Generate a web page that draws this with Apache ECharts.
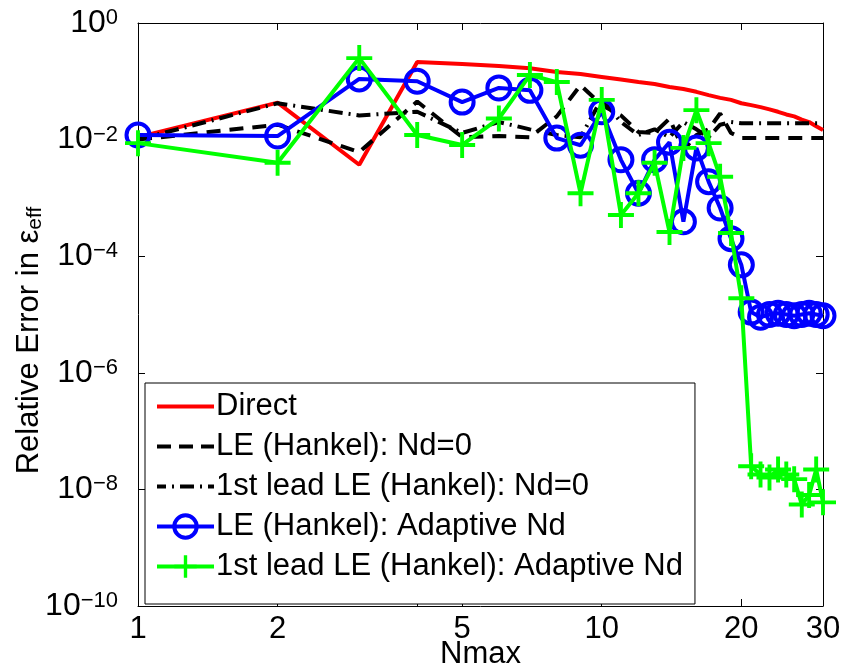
<!DOCTYPE html>
<html>
<head>
<meta charset="utf-8">
<script src="https://cdn.jsdelivr.net/npm/echarts@6/dist/echarts.min.js"></script>
<style>
html,body{margin:0;padding:0;background:#fff;}
#chart{width:846px;height:669px;}
</style>
</head>
<body>
<div id="chart"></div>
<script>
var nmax = [1,2,3,4,5,6,7,8,9,10,11,12,13,14,15,16,17,18,19,20,21,22,23,24,25,26,27,28,29,30];
var direct = [0.011,0.043,0.0037,0.214,0.198,0.183,0.168,0.144,0.133,0.119,0.107,0.097,0.090,0.080,0.074,0.066,0.058,0.052,0.048,0.042,0.039,0.036,0.033,0.030,0.027,0.025,0.022,0.020,0.017,0.0146];
var leNd0 = [0.010,0.018,0.0061,0.045,0.011,0.0115,0.011,0.025,0.086,0.039,0.026,0.0135,0.013,0.023,0.0066,0.012,0.015,0.028,0.013,0.0107,0.0107,0.0107,0.0107,0.0107,0.0107,0.0107,0.0107,0.0107,0.0107,0.0107];
var leadNd0 = [0.010,0.042,0.026,0.030,0.013,0.020,0.015,0.012,0.011,0.050,0.020,0.012,0.015,0.011,0.020,0.015,0.011,0.018,0.020,0.019,0.019,0.019,0.019,0.019,0.019,0.019,0.019,0.019,0.019,0.019];
var leAdapt = [0.012,0.0115,0.11,0.10,0.044,0.077,0.070,0.0106,0.008,0.030,0.0045,0.0012,0.0045,0.009,0.00039,0.0072,0.0019,0.00067,0.0002,0.000071,1.1e-5,9e-6,1.0e-5,1.05e-5,1.0e-5,9.5e-6,1.0e-5,1.05e-5,1.0e-5,9.5e-6];
var leadAdapt = [0.0087,0.004,0.25,0.012,0.0081,0.023,0.128,0.097,0.0012,0.048,0.00051,0.0012,0.004,0.00026,0.0072,0.032,0.0087,0.0023,0.00025,1.9e-5,2.5e-8,1.8e-8,1.6e-8,2.2e-8,1.8e-8,1.5e-8,5.5e-9,8e-9,2.2e-8,6e-9];
var xLabelValues = [1,2,5,10,20,30];
var xTickValues = [1,2,4,5,10,20,30];
var yTickValues = [1e-10,1e-8,1e-6,1e-4,1e-2,1];
var seriesNames = ['Direct','LE (Hankel): Nd=0','1st lead LE (Hankel): Nd=0','LE (Hankel): Adaptive Nd','1st lead LE (Hankel): Adaptive Nd'];

function pairs(arr){ return nmax.map(function(n,i){ return [n, arr[i]]; }); }

var FONT = 'Liberation Sans';
var chart = echarts.init(document.getElementById('chart'), null, {renderer:'canvas'});

function yFmt(v){
  var e = Math.round(Math.log(v)/Math.LN10);
  return '{b|10}{s|' + (e < 0 ? '\u2212' : '') + Math.abs(e) + '}';
}

var plusPath = 'path://M-0.15,-1L0.15,-1L0.15,-0.15L1,-0.15L1,0.15L0.15,0.15L0.15,1L-0.15,1L-0.15,0.15L-1,0.15L-1,-0.15L-0.15,-0.15Z';
var solidIcon = 'path://M0,0L57,0L57,4L0,4Z';
var dashIcon = 'path://M0,0L14,0L14,4L0,4ZM22,0L36,0L36,4L22,4ZM44,0L57,0L57,4L44,4Z';
var dashDotIcon = 'path://M0,0L9,0L9,4L0,4ZM15,0L17,0L17,4L15,4ZM23,0L37,0L37,4L23,4ZM43,0L45,0L45,4L43,4ZM51,0L57,0L57,4L51,4Z';

var option = {
  backgroundColor:'#fff',
  animation:false,
  textStyle:{fontFamily:FONT},
  grid:{left:138,right:23,top:23,bottom:63,containLabel:false,outerBoundsMode:'none'},
  legend:{
    orient:'vertical', left:145, top:383,
    backgroundColor:'#fff', borderColor:'#000', borderWidth:1,
    padding:[8,12,22,10],
    itemWidth:57, itemHeight:28, itemGap:9,
    selectedMode:false,
    textStyle:{fontFamily:FONT,fontSize:31,color:'#000',lineHeight:30,padding:[0,0,0,-3]},
    data:[
      {name:seriesNames[0],icon:solidIcon},
      {name:seriesNames[1],icon:dashIcon},
      {name:seriesNames[2],icon:dashDotIcon},
      {name:seriesNames[3],lineStyle:{width:4},itemStyle:{borderWidth:4}},
      {name:seriesNames[4],lineStyle:{width:4},itemStyle:{borderWidth:0}}
    ]
  },
  xAxis:[{
    type:'log', logBase:10, min:1, max:30,
    name:'Nmax', nameLocation:'middle', nameGap:33, nameMoveOverlap:false,
    nameTextStyle:{fontFamily:FONT,fontSize:31,color:'#000'},
    axisLine:{show:true,lineStyle:{color:'#000',width:1}},
    axisTick:{show:true,inside:true,length:7,lineStyle:{color:'#000'},customValues:xTickValues},
    minorTick:{show:false},
    axisLabel:{show:true,fontFamily:FONT,fontSize:31,color:'#000',margin:8,customValues:xLabelValues,
      formatter:function(v){return String(Math.round(v));}},
    splitLine:{show:false}
  },{
    type:'log', logBase:10, min:1, max:30, position:'top',
    axisLine:{show:true,onZero:false,lineStyle:{color:'#000',width:1}},
    axisTick:{show:true,inside:true,length:7,lineStyle:{color:'#000'},customValues:xTickValues},
    axisLabel:{show:false},
    splitLine:{show:false}
  }],
  yAxis:[{
    type:'log', logBase:10, min:1e-10, max:1,
    name:'Relative Error in \u03b5{sub|eff}', nameLocation:'middle', nameGap:92, nameRotate:90, nameMoveOverlap:false,
    nameTextStyle:{fontFamily:FONT,fontSize:31,color:'#000',padding:[0,52,0,0],
      rich:{sub:{fontFamily:FONT,fontSize:21,color:'#000',verticalAlign:'bottom',padding:[12,0,0,0]}}},
    axisLine:{show:true,onZero:false,lineStyle:{color:'#000',width:1}},
    axisTick:{show:true,inside:true,length:7,lineStyle:{color:'#000'},customValues:yTickValues},
    axisLabel:{show:true,margin:20,customValues:yTickValues,formatter:yFmt,
      rich:{
        b:{fontFamily:FONT,fontSize:32,color:'#000',lineHeight:32,verticalAlign:'bottom'},
        s:{fontFamily:FONT,fontSize:22,color:'#000',lineHeight:22,verticalAlign:'top',padding:[0,0,18,0]}
      }},
    splitLine:{show:false}
  },{
    type:'log', logBase:10, min:1e-10, max:1, position:'right',
    axisLine:{show:true,onZero:false,lineStyle:{color:'#000',width:1}},
    axisTick:{show:true,inside:true,length:7,lineStyle:{color:'#000'},customValues:yTickValues},
    axisLabel:{show:false},
    splitLine:{show:false}
  }],
  series:[
    {name:seriesNames[0],type:'line',data:pairs(direct),showSymbol:false,symbol:'none',
     color:'#ff0000',lineStyle:{color:'#ff0000',width:4},z:2},
    {name:seriesNames[1],type:'line',data:pairs(leNd0),showSymbol:false,symbol:'none',
     color:'#000',lineStyle:{color:'#000',width:4,type:[14,9]},z:3},
    {name:seriesNames[2],type:'line',data:pairs(leadNd0),showSymbol:false,symbol:'none',
     color:'#000',lineStyle:{color:'#000',width:4,type:[14,6,2,6]},z:4},
    {name:seriesNames[3],type:'line',data:pairs(leAdapt),symbol:'circle',symbolSize:23,
     color:'#0000ff',lineStyle:{color:'#0000ff',width:4},
     itemStyle:{color:'rgba(0,0,0,0)',borderColor:'#0000ff',borderWidth:4},z:5},
    {name:seriesNames[4],type:'line',data:pairs(leadAdapt),symbol:plusPath,symbolSize:26,
     color:'#00ff00',lineStyle:{color:'#00ff00',width:4},
     itemStyle:{color:'#00ff00',borderWidth:0},z:6}
  ]
};
chart.setOption(option);
</script>
</body>
</html>
